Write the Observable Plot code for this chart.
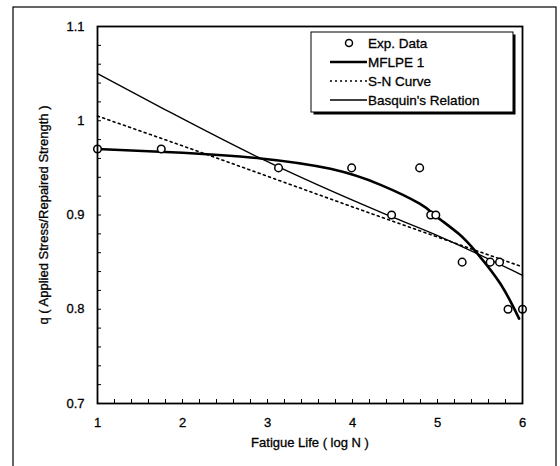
<!DOCTYPE html>
<html>
<head>
<meta charset="utf-8">
<script src="https://cdn.jsdelivr.net/npm/d3@7"></script>
<script src="https://cdn.jsdelivr.net/npm/@observablehq/plot@0.6"></script>
<style>
  html, body { margin: 0; padding: 0; background: #fff; }
  #chart svg { display: block; }
  #chart svg text { stroke: #000; stroke-width: 0.3px; }
</style>
</head>
<body>
<div id="chart"></div>
<script>
// Experimental data (log N, q)
const expX = [1.0, 1.75, 3.13, 3.99, 4.46, 4.79, 4.92, 4.98, 5.29, 5.62, 5.73, 5.83, 6.0];
const expQ = [0.97, 0.97, 0.95, 0.95, 0.90, 0.95, 0.90, 0.90, 0.85, 0.85, 0.85, 0.80, 0.80];

// MFLPE 1 model curve
const mflpeX = [1.0, 2.0, 2.92, 3.74, 4.33, 4.79, 4.98, 5.25, 5.47, 5.74, 5.96];
const mflpeQ = [0.970, 0.966, 0.960, 0.949, 0.932, 0.912, 0.899, 0.880, 0.859, 0.827, 0.790];

// S-N curve
const snX = [1.0, 1.98, 4.33, 6.0];
const snQ = [1.005, 0.974, 0.898, 0.845];

// Basquin's relation
const basX = [1.0, 1.75, 2.92, 4.33, 4.98, 6.0];
const basQ = [1.050, 1.014, 0.960, 0.903, 0.879, 0.836];

const xTicks = [1, 2, 3, 4, 5, 6];
const yTicks = [0.7, 0.8, 0.9, 1.0, 1.1];
const xMinor = d3.range(0, 26).map(i => 1 + i * 0.2);
const yMinor = d3.range(0, 21).map(i => 0.7 + i * 0.02);

const legendItems = ["Exp. Data", "MFLPE 1", "S-N Curve", "Basquin's Relation"];

const toRows = (xs, ys) => xs.map((x, i) => ({x, y: ys[i]}));
const expData = toRows(expX, expQ);
const mflpe = toRows(mflpeX, mflpeQ);
const sn = toRows(snX, snQ);
const bas = toRows(basX, basQ);

const W = 560, H = 466;
const mL = 97, mR = 38, mT = 26, mB = 63;
const plotH = H - mT - mB, plotW = W - mL - mR;

const chart = Plot.plot({
  width: W,
  height: H,
  marginLeft: mL,
  marginRight: mR,
  marginTop: mT,
  marginBottom: mB,
  style: {fontFamily: "'Liberation Sans', Arial, sans-serif", fontSize: "13px", color: "#000", background: "#fff"},
  x: {domain: [1, 6]},
  y: {domain: [0.7, 1.1]},
  marks: [
    Plot.axisX(xTicks, {tickSize: 0, tickPadding: 14, tickFormat: d => String(d), fontSize: 13,
      label: "Fatigue Life ( log N )", labelAnchor: "center", labelOffset: 43, labelArrow: "none"}),
    Plot.axisY(yTicks, {tickSize: 0, tickPadding: 13, tickFormat: d => d === 1 ? "1" : String(d), fontSize: 13,
      label: "q ( Applied Stress/Repaired Strength )", labelAnchor: "center", labelOffset: 59, labelArrow: "none"}),
    Plot.tickX(xMinor, {x: d => d, insetTop: plotH - 4, stroke: "#000", strokeWidth: 1}),
    Plot.tickY(yMinor, {y: d => d, insetRight: plotW - 4, stroke: "#000", strokeWidth: 1}),
    Plot.line(bas, {x: "x", y: "y", stroke: "#000", strokeWidth: 1.3, curve: "monotone-x"}),
    Plot.line(sn, {x: "x", y: "y", stroke: "#000", strokeWidth: 1.6, strokeDasharray: "2,3.5", curve: "monotone-x"}),
    Plot.line(mflpe, {x: "x", y: "y", stroke: "#000", strokeWidth: 2.6, curve: "natural"}),
    Plot.dot(expData, {x: "x", y: "y", r: 3.8, stroke: "#000", strokeWidth: 1.5, fill: "#fff"}),
    Plot.frame({stroke: "#000", strokeWidth: 1.8})
  ]
});

document.getElementById("chart").appendChild(chart);

const svg = d3.select(chart);
// outer figure border
svg.append("rect")
  .attr("x", 13).attr("y", 7).attr("width", 543).attr("height", 470)
  .attr("fill", "none").attr("stroke", "#000").attr("stroke-width", 1.2);

// legend
const lg = svg.append("g");
const lx = 311, ly = 32, lw = 202, lh = 80;
lg.append("rect").attr("x", lx + 2.5).attr("y", ly + 2.5).attr("width", lw).attr("height", lh).attr("fill", "#000");
lg.append("rect").attr("x", lx).attr("y", ly).attr("width", lw).attr("height", lh)
  .attr("fill", "#fff").attr("stroke", "#000").attr("stroke-width", 1);
legendItems.forEach((name, i) => {
  const cy = 43 + i * 19;
  if (i === 0) {
    lg.append("circle").attr("cx", 349).attr("cy", cy).attr("r", 3.5)
      .attr("fill", "#fff").attr("stroke", "#000").attr("stroke-width", 1.5);
  } else {
    const ln = lg.append("line").attr("x1", 330).attr("x2", 367).attr("y1", cy).attr("y2", cy).attr("stroke", "#000");
    if (i === 1) ln.attr("stroke-width", 2.6);
    if (i === 2) ln.attr("stroke-width", 1.5).attr("stroke-dasharray", "2,3");
    if (i === 3) ln.attr("stroke-width", 1.3);
  }
  lg.append("text").attr("x", 368).attr("y", cy).attr("dy", "0.36em")
    .attr("text-anchor", "start")
    .attr("font-family", "'Liberation Sans', Arial, sans-serif").attr("font-size", 13.5)
    .attr("fill", "#000").text(name);
});
</script>
</body>
</html>
